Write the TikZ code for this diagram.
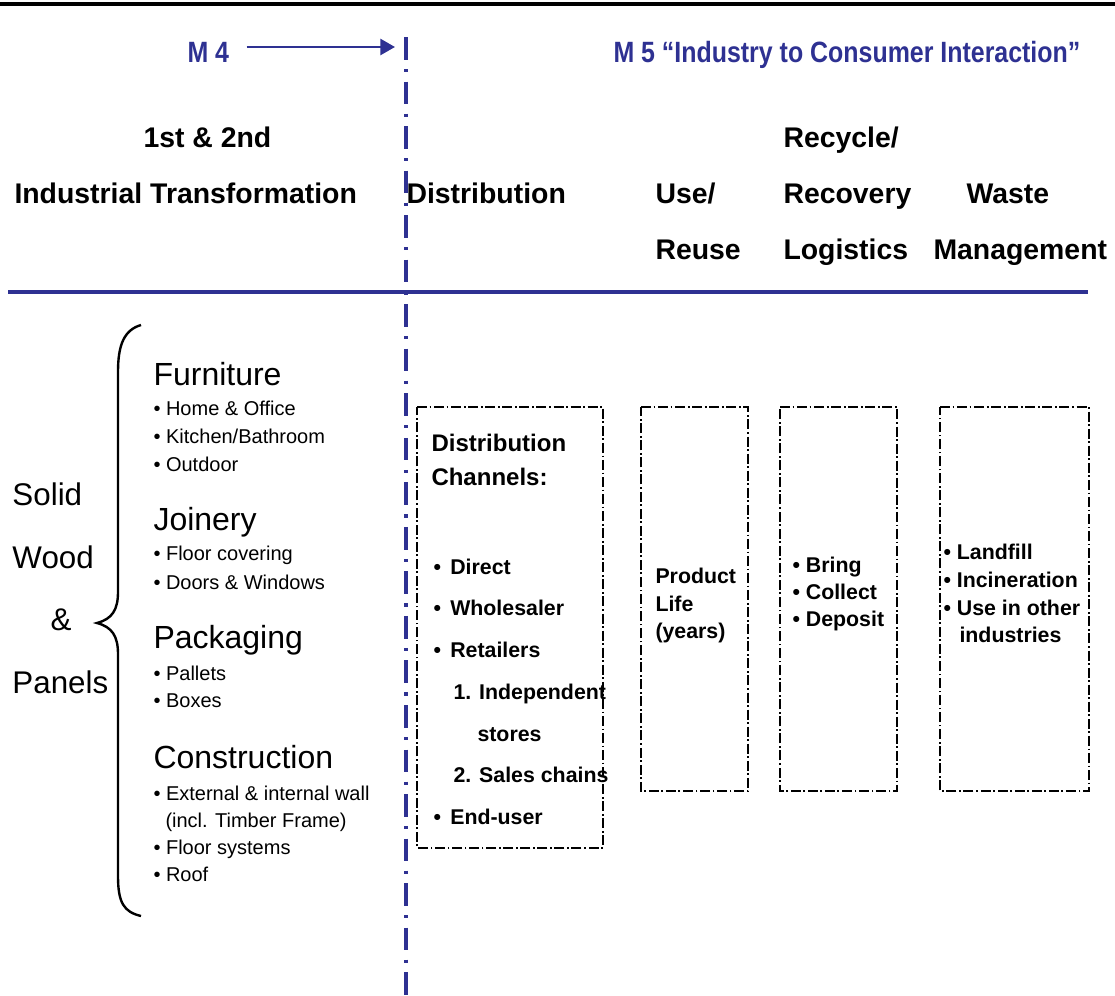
\documentclass[tikz,border=0pt]{standalone}
\usepackage{fontspec}
\setmainfont{Liberation Sans}
\newfontfamily\narrowsans[FakeStretch=0.85]{Liberation Sans}
\usetikzlibrary{arrows.meta}
\definecolor{mblue}{RGB}{46,49,146}

\tikzset{every picture/.style={line width=0.75pt}}
\tikzset{
  hdr/.style={anchor=base west,inner sep=0.75pt,font=\fontsize{21.3}{25}\selectfont\bfseries},
  mtxt/.style={anchor=base west,inner sep=0.75pt,color=mblue,font=\narrowsans\fontsize{22}{26}\selectfont\bfseries},
  big/.style={anchor=base west,inner sep=0.75pt,font=\fontsize{23.5}{28}\selectfont},
  cat/.style={anchor=base west,inner sep=0.75pt,font=\fontsize{24}{29}\selectfont},
  itm/.style={anchor=base west,inner sep=0.75pt,font=\fontsize{15}{18}\selectfont},
  boxttl/.style={anchor=base west,inner sep=0.75pt,font=\fontsize{18}{22}\selectfont\bfseries},
  boxitm/.style={anchor=base west,inner sep=0.75pt,font=\fontsize{16}{19}\selectfont\bfseries},
  chanbox/.style={line width=1.3pt,dash pattern=on 7.5pt off 2pt on 1.3pt off 2pt},
  sepline/.style={color=mblue,line width=2.6pt,dash pattern=on 17pt off 7pt on 2.4pt off 7pt}
}

\begin{document}
\begin{tikzpicture}[x=0.75pt,y=0.75pt,yscale=-1,xscale=1]
\useasboundingbox (0,0) rectangle (1115,996);

%Straight Lines [top rule]
\draw [line width=2.6pt]   (0,4) -- (1115,4) ;
%Straight Lines [M4 / M5 boundary]
\draw [sepline]   (406,37) -- (406,996) ;
%Straight Lines [header rule]
\draw [color=mblue ,line width=2.5pt]   (8,292) -- (1088,292) ;

%Shape: Rectangle [distribution]
\draw [chanbox]  (417,407) -- (603,407) -- (603,848) -- (417,848) -- cycle ;
%Shape: Rectangle [use]
\draw [chanbox]  (641,407) -- (748,407) -- (748,791) -- (641,791) -- cycle ;
%Shape: Rectangle [recovery]
\draw [chanbox]  (780,407) -- (897,407) -- (897,791) -- (780,791) -- cycle ;
%Shape: Rectangle [waste]
\draw [chanbox]  (940,407) -- (1089,407) -- (1089,791) -- (940,791) -- cycle ;

%Shape: Brace
\draw [line width=1.8pt]   (141,325) .. controls (124,330) and (118,345) .. (118,372) -- (118,592) .. controls (118,610) and (112,619) .. (97,623) .. controls (112,627) and (118,636) .. (118,654) -- (118,876) .. controls (118,903) and (124,912) .. (141,916) ;

% Text Node
\draw (186,62) node (m4) [mtxt]  {M 4};
% Text Node
\draw (612,62) node (m5) [mtxt]  {M 5 “Industry to Consumer Interaction”};
%Straight Lines [M4 arrow]
\coordinate (m4tip) at (395,47);
\draw [color=mblue ,line width=2pt ,-{Triangle[length=11pt,width=12pt]} ,shorten <=12pt]   (m4.east |- m4tip) -- (m4tip) ;

% Text Node
\draw (142,147) node (first) [hdr]  {1st \& 2nd};
% Text Node
\draw (13,203) node (indtr) [hdr]  {Industrial Transformation};
% Text Node
\draw (405,203) node (distr) [hdr]  {Distribution};
% Text Node
\draw (654,203) node (use) [hdr]  {Use/};
% Text Node
\draw (654,259) node (reuse) [hdr]  {Reuse};
% Text Node
\draw (782,147) node (recyc) [hdr]  {Recycle/};
% Text Node
\draw (782,203) node (recov) [hdr]  {Recovery};
% Text Node
\draw (782,259) node (logis) [hdr]  {Logistics};
% Text Node
\draw (965,203) node (waste) [hdr]  {Waste};
% Text Node
\draw (932,259) node (mgmt) [hdr]  {Management};

% Text Node
\draw (11,505) node (solid) [big]  {Solid};
% Text Node
\draw (11,568) node (wood) [big]  {Wood};
% Text Node
\draw (49,630) node (amp) [big]  {\&};
% Text Node
\draw (11,693) node (panels) [big]  {Panels};

% Text Node
\draw (152,385) node (furn) [cat]  {Furniture};
% Text Node
\draw (152,415) node (home) [itm]  {• Home \& Office};
% Text Node
\draw (152,443) node (kitch) [itm]  {• Kitchen/Bathroom};
% Text Node
\draw (152,471) node (outd) [itm]  {• Outdoor};
% Text Node
\draw (152,530) node (join) [cat]  {Joinery};
% Text Node
\draw (152,560) node (floorc) [itm]  {• Floor covering};
% Text Node
\draw (152,589) node (doors) [itm]  {• Doors \& Windows};
% Text Node
\draw (152,648) node (pack) [cat]  {Packaging};
% Text Node
\draw (152,680) node (pall) [itm]  {• Pallets};
% Text Node
\draw (152,707) node (boxes) [itm]  {• Boxes};
% Text Node
\draw (152,768) node (constr) [cat]  {Construction};
% Text Node
\draw (152,800) node (wall) [itm]  {• External \& internal wall};
% Text Node
\draw (164,827) node (timber) [itm]  {(incl. Timber Frame)};
% Text Node
\draw (152,854) node (floors) [itm]  {• Floor systems};
% Text Node
\draw (152,881) node (roof) [itm]  {• Roof};

% Text Node
\draw (430,451) node (dchan) [boxttl]  {Distribution};
% Text Node
\draw (430,485) node (chan) [boxttl]  {Channels:};
% Text Node
\draw (432,574) node (direct) [boxitm]  {•\hspace{7pt}Direct};
% Text Node
\draw (432,615) node (whole) [boxitm]  {•\hspace{7pt}Wholesaler};
% Text Node
\draw (432,657) node (retail) [boxitm]  {•\hspace{7pt}Retailers};
% Text Node
\draw (452,699) node (indep) [boxitm]  {1. Independent};
% Text Node
\draw (476,741) node (stores) [boxitm]  {stores};
% Text Node
\draw (452,782) node (sales) [boxitm]  {2. Sales chains};
% Text Node
\draw (432,824) node (enduser) [boxitm]  {•\hspace{7pt}End-user};

% Text Node
\draw (654,583) node (prod) [boxitm]  {Product};
% Text Node
\draw (654,611) node (life) [boxitm]  {Life};
% Text Node
\draw (654,638) node (years) [boxitm]  {(years)};

% Text Node
\draw (791,572) node (bring) [boxitm]  {• Bring};
% Text Node
\draw (791,599) node (collect) [boxitm]  {• Collect};
% Text Node
\draw (791,626) node (deposit) [boxitm]  {• Deposit};

% Text Node
\draw (942,559) node (landf) [boxitm]  {• Landfill};
% Text Node
\draw (942,587) node (incin) [boxitm]  {• Incineration};
% Text Node
\draw (942,615) node (useo) [boxitm]  {• Use in other};
% Text Node
\draw (958,642) node (indus) [boxitm]  {industries};

\end{tikzpicture}
\end{document}
